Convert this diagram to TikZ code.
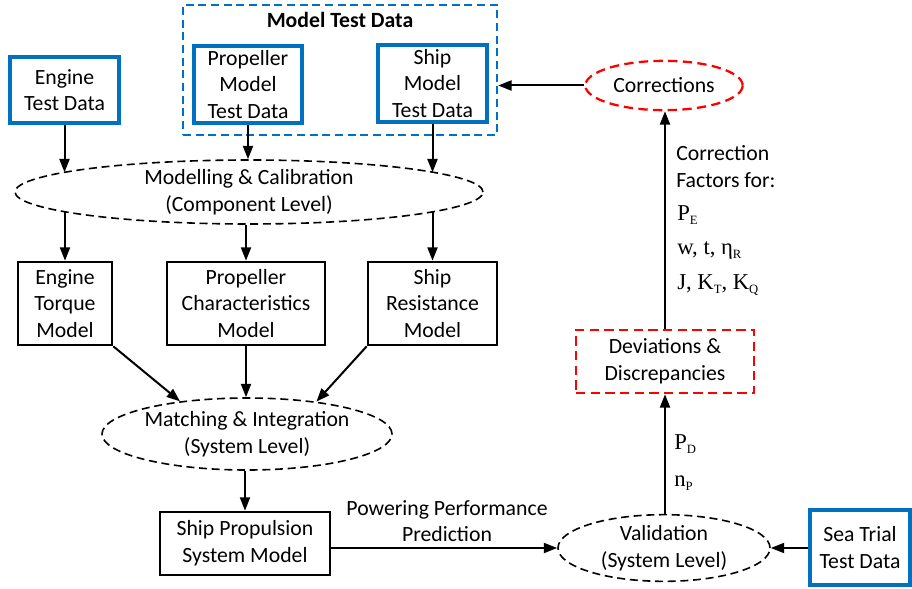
\documentclass[tikz,border=0pt]{standalone}
\usepackage{fontspec}
\setmainfont{Carlito}
\newfontfamily\tnr{Liberation Serif}
\usetikzlibrary{shapes.geometric,arrows.meta}
\definecolor{mblue}{RGB}{0,112,192}
\newcommand{\lowsub}[1]{\raisebox{-0.45ex}{\fontsize{9.5}{10}\selectfont #1}}

\begin{document}
\begin{tikzpicture}[x=0.75pt,y=-0.75pt,
    font=\fontsize{16.3}{20}\selectfont,
    box/.style={draw,line width=2pt,align=center,inner sep=0pt},
    datbox/.style={box,draw=mblue,line width=2.6pt},
    oval/.style={ellipse,draw,line width=1.2pt,dash pattern=on 6pt off 3.5pt,align=center,inner sep=0pt},
    arr/.style={line width=1.5pt,-{Triangle[length=10pt,width=7.5pt]}},
    sym/.style={anchor=base west,inner sep=0pt,font=\fontsize{17}{20}\selectfont\tnr}]
    \useasboundingbox (0,0) rectangle (912,588);
    % test data
    \node[box,draw=mblue,line width=1.8pt,dash pattern=on 6pt off 3.5pt,minimum width=235.5pt,minimum height=97.5pt] (mtd) at (340,70) {};
    \node[font=\fontsize{16.3}{20}\selectfont\bfseries] (mtdt) at (340,20) {Model Test Data};
    \node[datbox,minimum width=81.75pt,minimum height=49.5pt] (etd) at (64.5,90) {Engine\\Test Data};
    \node[datbox,minimum width=81pt,minimum height=57.75pt] (ptd) at (248,84.5) {Propeller\\Model\\Test Data};
    \node[datbox,minimum width=81.75pt,minimum height=57.75pt] (std) at (432.5,83.5) {Ship\\Model\\Test Data};
    \node[datbox,minimum width=75pt,minimum height=56.25pt] (stt) at (860,547.5) {Sea Trial\\Test Data};
    % models
    \node[oval,minimum width=351pt,minimum height=48pt] (mc) at (249,192) {Modelling \& Calibration\\(Component Level)};
    \node[box,minimum width=70.5pt,minimum height=62.25pt] (et) at (65,303.5) {Engine\\Torque\\Model};
    \node[box,minimum width=118.5pt,minimum height=62.25pt] (pc) at (246,303.5) {Propeller\\Characteristics\\Model};
    \node[box,minimum width=96.75pt,minimum height=62.25pt] (sr) at (432.5,303.5) {Ship\\Resistance\\Model};
    \node[oval,minimum width=217.5pt,minimum height=54pt] (mi) at (247,434) {Matching \& Integration\\(System Level)};
    \node[box,minimum width=127.5pt,minimum height=47.25pt] (sp) at (245,543.5) {Ship Propulsion\\System Model};
    \node[oval,minimum width=159pt,minimum height=50pt] (va) at (664,548) {Validation\\(System Level)};
    % feedback
    \node[box,draw=red,line width=1.9pt,dash pattern=on 7pt off 4pt,minimum width=133.5pt,minimum height=47.25pt] (dv) at (665,361.5) {Deviations \&\\Discrepancies};
    \node[oval,draw=red,line width=1.7pt,dash pattern=on 7pt off 4pt,minimum width=118pt,minimum height=37pt] (co) at (664,85.5) {Corrections};
    % arrows
    \draw[arr] (etd.south) -- (etd.south |- mc.174);
    \draw[arr] (ptd.south) -- (ptd.south |- mc.north);
    \draw[arr] (std.south) -- (std.south |- mc.6);
    \draw[arr] (et.north |- mc.186) -- (et.north);
    \draw[arr] (pc.north |- mc.south) -- (pc.north);
    \draw[arr] (sr.north |- mc.-6) -- (sr.north);
    \draw[arr] (et.south east) -- (mi.154);
    \draw[arr] (pc.south) -- (pc.south |- mi.north);
    \draw[arr] (sr.south west) -- (mi.25);
    \draw[arr] (sp.north |- mi.south) -- (sp.north);
    \draw[arr] (sp.east |- va.west) -- (va.west);
    \draw[arr] (stt.west |- va.east) -- (va.east);
    \draw[arr] (dv.south |- va.north) -- (dv.south);
    \draw[arr] (dv.north) -- (dv.north |- co.south);
    \draw[arr] (co.west) -- (mtd.east |- co.west);
    % labels
    \node[align=center] (ppp) at (447,521) {Powering Performance\\Prediction};
    \node[anchor=base west,inner sep=0pt] (cf1) at (676,161) {Correction};
    \node[anchor=base west,inner sep=0pt] (cf2) at (676,187) {Factors for:};
    \node[sym] (pe) at (677,220) {P\lowsub{E}};
    \node[sym] (wt) at (677,254) {w, t, η\lowsub{R}};
    \node[sym] (jk) at (677,289) {J, K\lowsub{T}, K\lowsub{Q}};
    \node[sym] (pd) at (674,449) {P\lowsub{D}};
    \node[sym] (np) at (674,486) {n\lowsub{P}};
\end{tikzpicture}
\end{document}
